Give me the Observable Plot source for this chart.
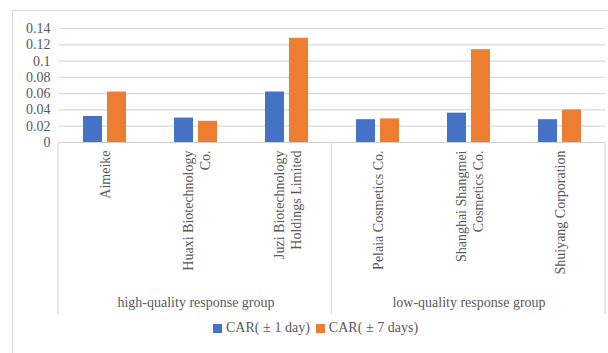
<!DOCTYPE html>
<html><head><meta charset="utf-8">
<script src="https://cdn.jsdelivr.net/npm/d3@7"></script>
<script src="https://cdn.jsdelivr.net/npm/@observablehq/plot@0.6"></script>
<style>
body{margin:0;background:#fff;font-family:"Liberation Serif","DejaVu Serif",serif;}
#wrap{position:relative;width:608px;height:353px;overflow:hidden;}
#frame{position:absolute;left:12px;top:10px;width:620px;height:360px;border-left:1px solid #d9d9d9;border-top:1.5px solid #d9d9d9;}
#chart{position:absolute;left:0;top:0;}
#legend{position:absolute;left:213px;top:319px;height:18px;font-size:14px;color:#595959;display:flex;align-items:center;white-space:nowrap;font-family:"Liberation Serif","DejaVu Serif",serif;}
.sw{display:inline-block;width:9px;height:9px;margin-right:4px;}
.item{display:flex;align-items:center;margin-right:6px;}
.pm{display:inline-block;width:15px;text-align:center;}
svg text{font-family:"Liberation Serif","DejaVu Serif",serif !important;}
</style></head>
<body>
<div id="wrap"><div id="frame"></div><div id="chart"></div><div id="legend"></div></div>
<script>
const companies = ["Aimeike", "Huaxi Biotechnology Co.", "Juzi Biotechnology Holdings Limited", "Pelaia Cosmetics Co.", "Shanghai Shangmei Cosmetics Co.", "Shuiyang Corporation"];
const companyLabels = ["Aimeike", "Huaxi Biotechnology\nCo.", "Juzi Biotechnology\nHoldings Limited", "Pelaia Cosmetics Co.", "Shanghai Shangmei\nCosmetics Co.", "Shuiyang Corporation"];
const groupNames = ["high-quality response group", "low-quality response group"];
const companyGroup = [0, 0, 0, 1, 1, 1];
const seriesNames = ["CAR(±1 day)", "CAR(±7 days)"];
const car1 = [0.032, 0.030, 0.062, 0.028, 0.036, 0.028];
const car7 = [0.062, 0.026, 0.128, 0.029, 0.114, 0.040];
const yTicks = [0, 0.02, 0.04, 0.06, 0.08, 0.10, 0.12, 0.14];
const colors = ["#4472C4", "#ED7D31"];

const rows = companies.flatMap((c, i) => [
  {company: c, series: seriesNames[0], value: car1[i]},
  {company: c, series: seriesNames[1], value: car7[i]}
]);
const labelOf = new Map(companies.map((c, i) => [c, companyLabels[i]]));
const groupMid = groupNames.map((g, gi) => {
  const members = companies.filter((c, i) => companyGroup[i] === gi);
  return {company: members[Math.floor(members.length / 2)], name: g};
});

const txt = "#595959";
const chart = Plot.plot({
  width: 608, height: 318,
  marginLeft: 58, marginRight: 3, marginTop: 28, marginBottom: 176,
  style: {fontFamily: "Liberation Serif", fontSize: "14px", color: txt, background: "transparent"},
  fx: {domain: companies, padding: 0},
  x: {domain: seriesNames, paddingInner: 0.2, paddingOuter: 0.924, axis: null},
  y: {domain: [0, 0.14]},
  color: {domain: seriesNames, range: colors},
  marks: [
    Plot.gridY(yTicks, {stroke: "#d9d9d9", strokeOpacity: 1, strokeWidth: 1.2}),
    Plot.ruleY([0], {stroke: "#d0d0d0", strokeWidth: 1.2}),
    Plot.barY(rows, {fx: "company", x: "series", y: "value", fill: "series"}),
    Plot.axisY(yTicks, {tickSize: 0, tickPadding: 9, tickFormat: d => String(+d.toFixed(2)), fontSize: 14, fill: txt, label: null}),
    Plot.axisFx({anchor: "bottom", tickSize: 0, tickPadding: 8, tickRotate: -90, tickFormat: c => labelOf.get(c), textAnchor: "end", lineAnchor: "middle", lineHeight: 1.2, fontSize: 14, fill: txt, label: null}),
    Plot.text(groupMid, {fx: "company", text: "name", frameAnchor: "bottom", lineAnchor: "middle", dy: 160, fontSize: 14, fill: txt})
  ]
});
document.getElementById("chart").appendChild(chart);

// group separators drawn through Plot's fx and y scales
const fxS = chart.scale("fx");
const yS = chart.scale("y");
const band = d3.scaleBand(fxS.domain, fxS.range).paddingInner(fxS.paddingInner || 0).paddingOuter(fxS.paddingOuter || 0).align(fxS.align ?? 0.5);
const y0 = yS.apply ? yS.apply(0) : yS.range[0];
const edges = [];
groupNames.forEach((g, gi) => {
  const members = companies.filter((c, i) => companyGroup[i] === gi);
  edges.push(band(members[0]));
  if (gi === groupNames.length - 1) edges.push(band(members[members.length - 1]) + band.bandwidth());
});
d3.select(chart).append("g").selectAll("line").data(edges).join("line")
  .attr("x1", d => d).attr("x2", d => d).attr("y1", y0).attr("y2", y0 + 172)
  .attr("stroke", "#d9d9d9").attr("stroke-width", 1.2);

const legend = d3.select("#legend");
seriesNames.forEach((s, i) => {
  const it = legend.append("div").attr("class", "item");
  it.append("span").attr("class", "sw").style("background", colors[i]);
  const t = it.append("span");
  s.split("±").forEach((part, j) => {
    if (j > 0) t.append("span").attr("class", "pm").text("±");
    t.append("span").text(part);
  });
});
</script>
</body></html>
